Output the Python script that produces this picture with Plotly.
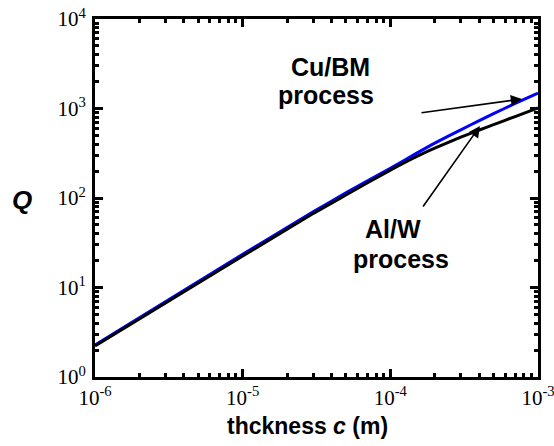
import plotly.graph_objects as go

# thickness c (m)
thickness = [1e-6, 1e-5, 3e-5, 5e-5, 1e-4, 1.5e-4, 2e-4, 3e-4, 4e-4, 5e-4, 7e-4, 1e-3]
# Q values
q_cu_bm = [2.28, 23.5, 70, 114, 215, 315, 410, 578, 732, 875, 1140, 1490]
q_al_w = [2.22, 22.5, 67, 108, 205, 290, 360, 478, 575, 660, 813, 1014]

x_tickvals = [1e-6, 1e-5, 1e-4, 1e-3]
x_ticktext = ["10<sup>-6</sup>", "10<sup>-5</sup>", "10<sup>-4</sup>", "10<sup>-3</sup>"]
y_tickvals = [1, 10, 100, 1000, 10000]
y_ticktext = ["10<sup>0</sup>", "10<sup>1</sup>", "10<sup>2</sup>", "10<sup>3</sup>", "10<sup>4</sup>"]
minor_x = [k * 10.0 ** e for e in (-6, -5, -4) for k in range(2, 10)]
minor_y = [k * 10.0 ** e for e in (0, 1, 2, 3) for k in range(2, 10)]

W, H = 554, 446
L, T, R, B = 95, 19, 16, 69
PW, PH = W - L - R, H - T - B


def px(x):
    return (x - L) / PW


def py(y):
    return (H - B - y) / PH


fig = go.Figure()
fig.add_trace(go.Scatter(x=thickness, y=q_cu_bm, mode="lines",
                         line=dict(color="#0000ff", width=3, shape="spline", smoothing=0.5),
                         showlegend=False))
fig.add_trace(go.Scatter(x=thickness, y=q_al_w, mode="lines",
                         line=dict(color="#000000", width=3, shape="spline", smoothing=0.5),
                         showlegend=False))
# invisible carrier trace for the minor-tick axes
fig.add_trace(go.Scatter(x=thickness, y=q_al_w, mode="lines", xaxis="x2", yaxis="y2",
                         line=dict(width=0), opacity=0, hoverinfo="skip", showlegend=False))

tickfont = dict(family="Liberation Serif, Times New Roman, serif", size=21, color="black")
common = dict(showline=True, linecolor="black", linewidth=3, mirror="ticks",
              ticks="inside", tickcolor="black", showgrid=False, zeroline=False,
              automargin=False)

fig.update_layout(
    xaxis=dict(type="log", range=[-6, -3], tickmode="array", tickvals=x_tickvals,
               ticktext=x_ticktext, ticklen=8, tickwidth=2.5, tickfont=tickfont,
               ticklabeloverflow="allow", **common),
    yaxis=dict(type="log", range=[0, 4], tickmode="array", tickvals=y_tickvals,
               ticktext=y_ticktext, ticklen=8, tickwidth=2.5, tickfont=tickfont,
               ticklabelstandoff=2, ticklabeloverflow="allow", **common),
    xaxis2=dict(type="log", range=[-6, -3], overlaying="x", side="bottom", anchor="y2",
                tickmode="array", tickvals=minor_x, showticklabels=False,
                ticklen=4, tickwidth=2.5, **common),
    yaxis2=dict(type="log", range=[0, 4], overlaying="y", side="left", anchor="x2",
                tickmode="array", tickvals=minor_y, showticklabels=False,
                ticklen=4, tickwidth=2.5, **common),
)

bold = dict(family="Arial, Liberation Sans, sans-serif", color="black")
annots = [
    dict(text="<b>Cu/BM</b>", x=px(330), y=py(67), size=25),
    dict(text="<b>process</b>", x=px(326), y=py(95), size=25),
    dict(text="<b>Al/W</b>", x=px(393), y=py(229), size=25),
    dict(text="<b>process</b>", x=px(401), y=py(259), size=25),
    dict(text="<b><i>Q</i></b>", x=px(22), y=py(200), size=26),
    dict(text="<b>thckness <i>c</i> (m)</b>", x=px(307), y=py(426), size=23),
]
for a in annots:
    fig.add_annotation(text=a["text"], x=a["x"], y=a["y"], xref="paper", yref="paper",
                       showarrow=False, xanchor="center", yanchor="middle",
                       font=dict(size=a["size"], **bold))

# arrows
fig.add_annotation(x=px(522), y=py(99), xref="paper", yref="paper", ax=-102, ay=14,
                   showarrow=True, arrowhead=2, arrowsize=1.4, arrowwidth=1.6,
                   arrowcolor="black", text="")
fig.add_annotation(x=px(480), y=py(126), xref="paper", yref="paper", ax=-58, ay=82,
                   showarrow=True, arrowhead=2, arrowsize=1.4, arrowwidth=1.6,
                   arrowcolor="black", text="")

fig.update_layout(
    width=W, height=H,
    margin=dict(l=L, r=R, t=T, b=B),
    paper_bgcolor="white", plot_bgcolor="white",
)

fig.write_html(
    "out.html",
    config={"displayModeBar": False},
    post_script="document.body.style.margin='0px';document.body.style.overflow='hidden';",
)
